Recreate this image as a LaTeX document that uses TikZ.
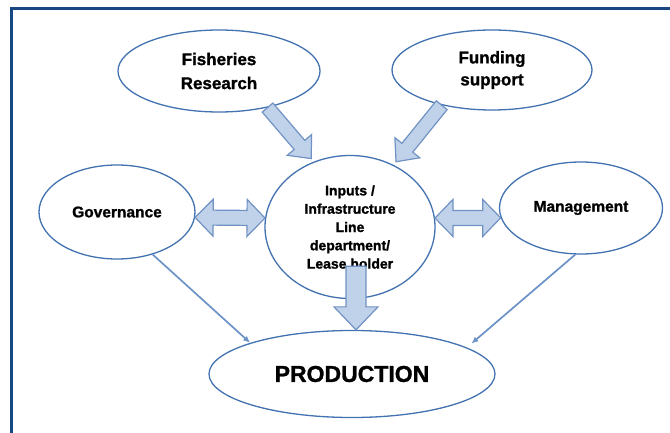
\documentclass[tikz,border=0pt]{standalone}
\usepackage{fontspec}
\usepackage{tikz}
\usetikzlibrary{shapes.geometric,calc,arrows.meta}
\newfontfamily\heavy{Liberation Sans}[FakeBold=1.2]
\definecolor{ringblue}{RGB}{66,114,176}
\definecolor{feedblue}{RGB}{108,146,200}
\definecolor{arrfill}{RGB}{192,210,233}
\definecolor{arrline}{RGB}{112,146,196}
\definecolor{framblue}{RGB}{24,72,132}

\tikzset{
  bubble/.style={ellipse, draw=ringblue, line width=1.3pt, fill=white, align=center, inner sep=0pt},
  fatarr/.style={draw=arrline, fill=arrfill, line width=1.2pt, line join=miter},
  feed/.style={draw=feedblue, line width=1.7pt, -{Latex[length=7pt,width=6pt]}}
}

\newcommand\fatarrow[5]{%
  \coordinate (fa-h) at ($(#2)!#5!(#1)$);
  \filldraw[fatarr] ($(#1)!#3!90:(#2)$) -- ($(fa-h)!#3!90:(#2)$) -- ($(fa-h)!#4!90:(#2)$) -- (#2)
    -- ($(fa-h)!#4!-90:(#2)$) -- ($(fa-h)!#3!-90:(#2)$) -- ($(#1)!#3!-90:(#2)$) -- cycle;
}
\newcommand\twinarrow[5]{%
  \coordinate (ta-a) at ($(#1)!#5!(#2)$);
  \coordinate (ta-b) at ($(#2)!#5!(#1)$);
  \filldraw[fatarr] (#1) -- ($(ta-a)!#4!90:(#2)$) -- ($(ta-a)!#3!90:(#2)$) -- ($(ta-b)!#3!90:(#2)$)
    -- ($(ta-b)!#4!90:(#2)$) -- (#2) -- ($(ta-b)!#4!-90:(#2)$) -- ($(ta-b)!#3!-90:(#2)$)
    -- ($(ta-a)!#3!-90:(#2)$) -- ($(ta-a)!#4!-90:(#2)$) -- cycle;
}

\begin{document}
\begin{tikzpicture}[x=1pt,y=-1pt]
  \useasboundingbox (0,0) rectangle (670,433);
  \draw[framblue, line width=3pt] (11,433) -- (11,9) -- (670,9);

  \node[bubble, minimum width=202pt, minimum height=82pt, font=\heavy\bfseries\fontsize{17}{24}\selectfont] (fish) at (219,71) {Fisheries\\Research};
  \node[bubble, minimum width=200pt, minimum height=80pt, font=\heavy\bfseries\fontsize{17}{22}\selectfont] (fund) at (492,70) {Funding\\support};

  \node[bubble, minimum width=156pt, minimum height=94pt, font=\heavy\bfseries\fontsize{15.5}{18}\selectfont] (gov) at (117,212) {Governance};
  \node[bubble, minimum width=170pt, minimum height=143pt, font=\heavy\bfseries\fontsize{14}{18.3}\selectfont] (inp) at (350,227) {Inputs /\\Infrastructure\\Line\\department/\\Lease holder};
  \node[bubble, minimum width=163pt, minimum height=92pt, font=\heavy\bfseries\fontsize{15.5}{18}\selectfont] (mgmt) at (581,208) {Management};

  \node[bubble, minimum width=286pt, minimum height=87pt, font=\heavy\bfseries\fontsize{23}{26}\selectfont] (prod) at (352,374) {PRODUCTION};

  \coordinate (f1) at (fish.-37);
  \coordinate (f2) at ($(inp.119)!4pt!(f1)$);
  \fatarrow{f1}{f2}{7pt}{16pt}{18pt}
  \coordinate (u1) at (fund.215);
  \coordinate (u2) at ($(inp.55)!4pt!(u1)$);
  \fatarrow{u1}{u2}{7pt}{16pt}{18pt}

  \twinarrow{gov.-4}{inp.174}{7.5pt}{18.5pt}{18pt}
  \twinarrow{inp.6}{mgmt.187}{7.5pt}{18.5pt}{18pt}

  \coordinate (d1) at ($(inp.south)+(6,-33)$);
  \coordinate (d2) at (d1 |- prod.north);
  \fatarrow{d1}{d2}{10pt}{22pt}{23pt}

  \draw[feed] (gov.-50) -- (prod.163);
  \draw[feed, shorten >=6pt] (mgmt.-97) -- (prod.13);
\end{tikzpicture}
\end{document}
